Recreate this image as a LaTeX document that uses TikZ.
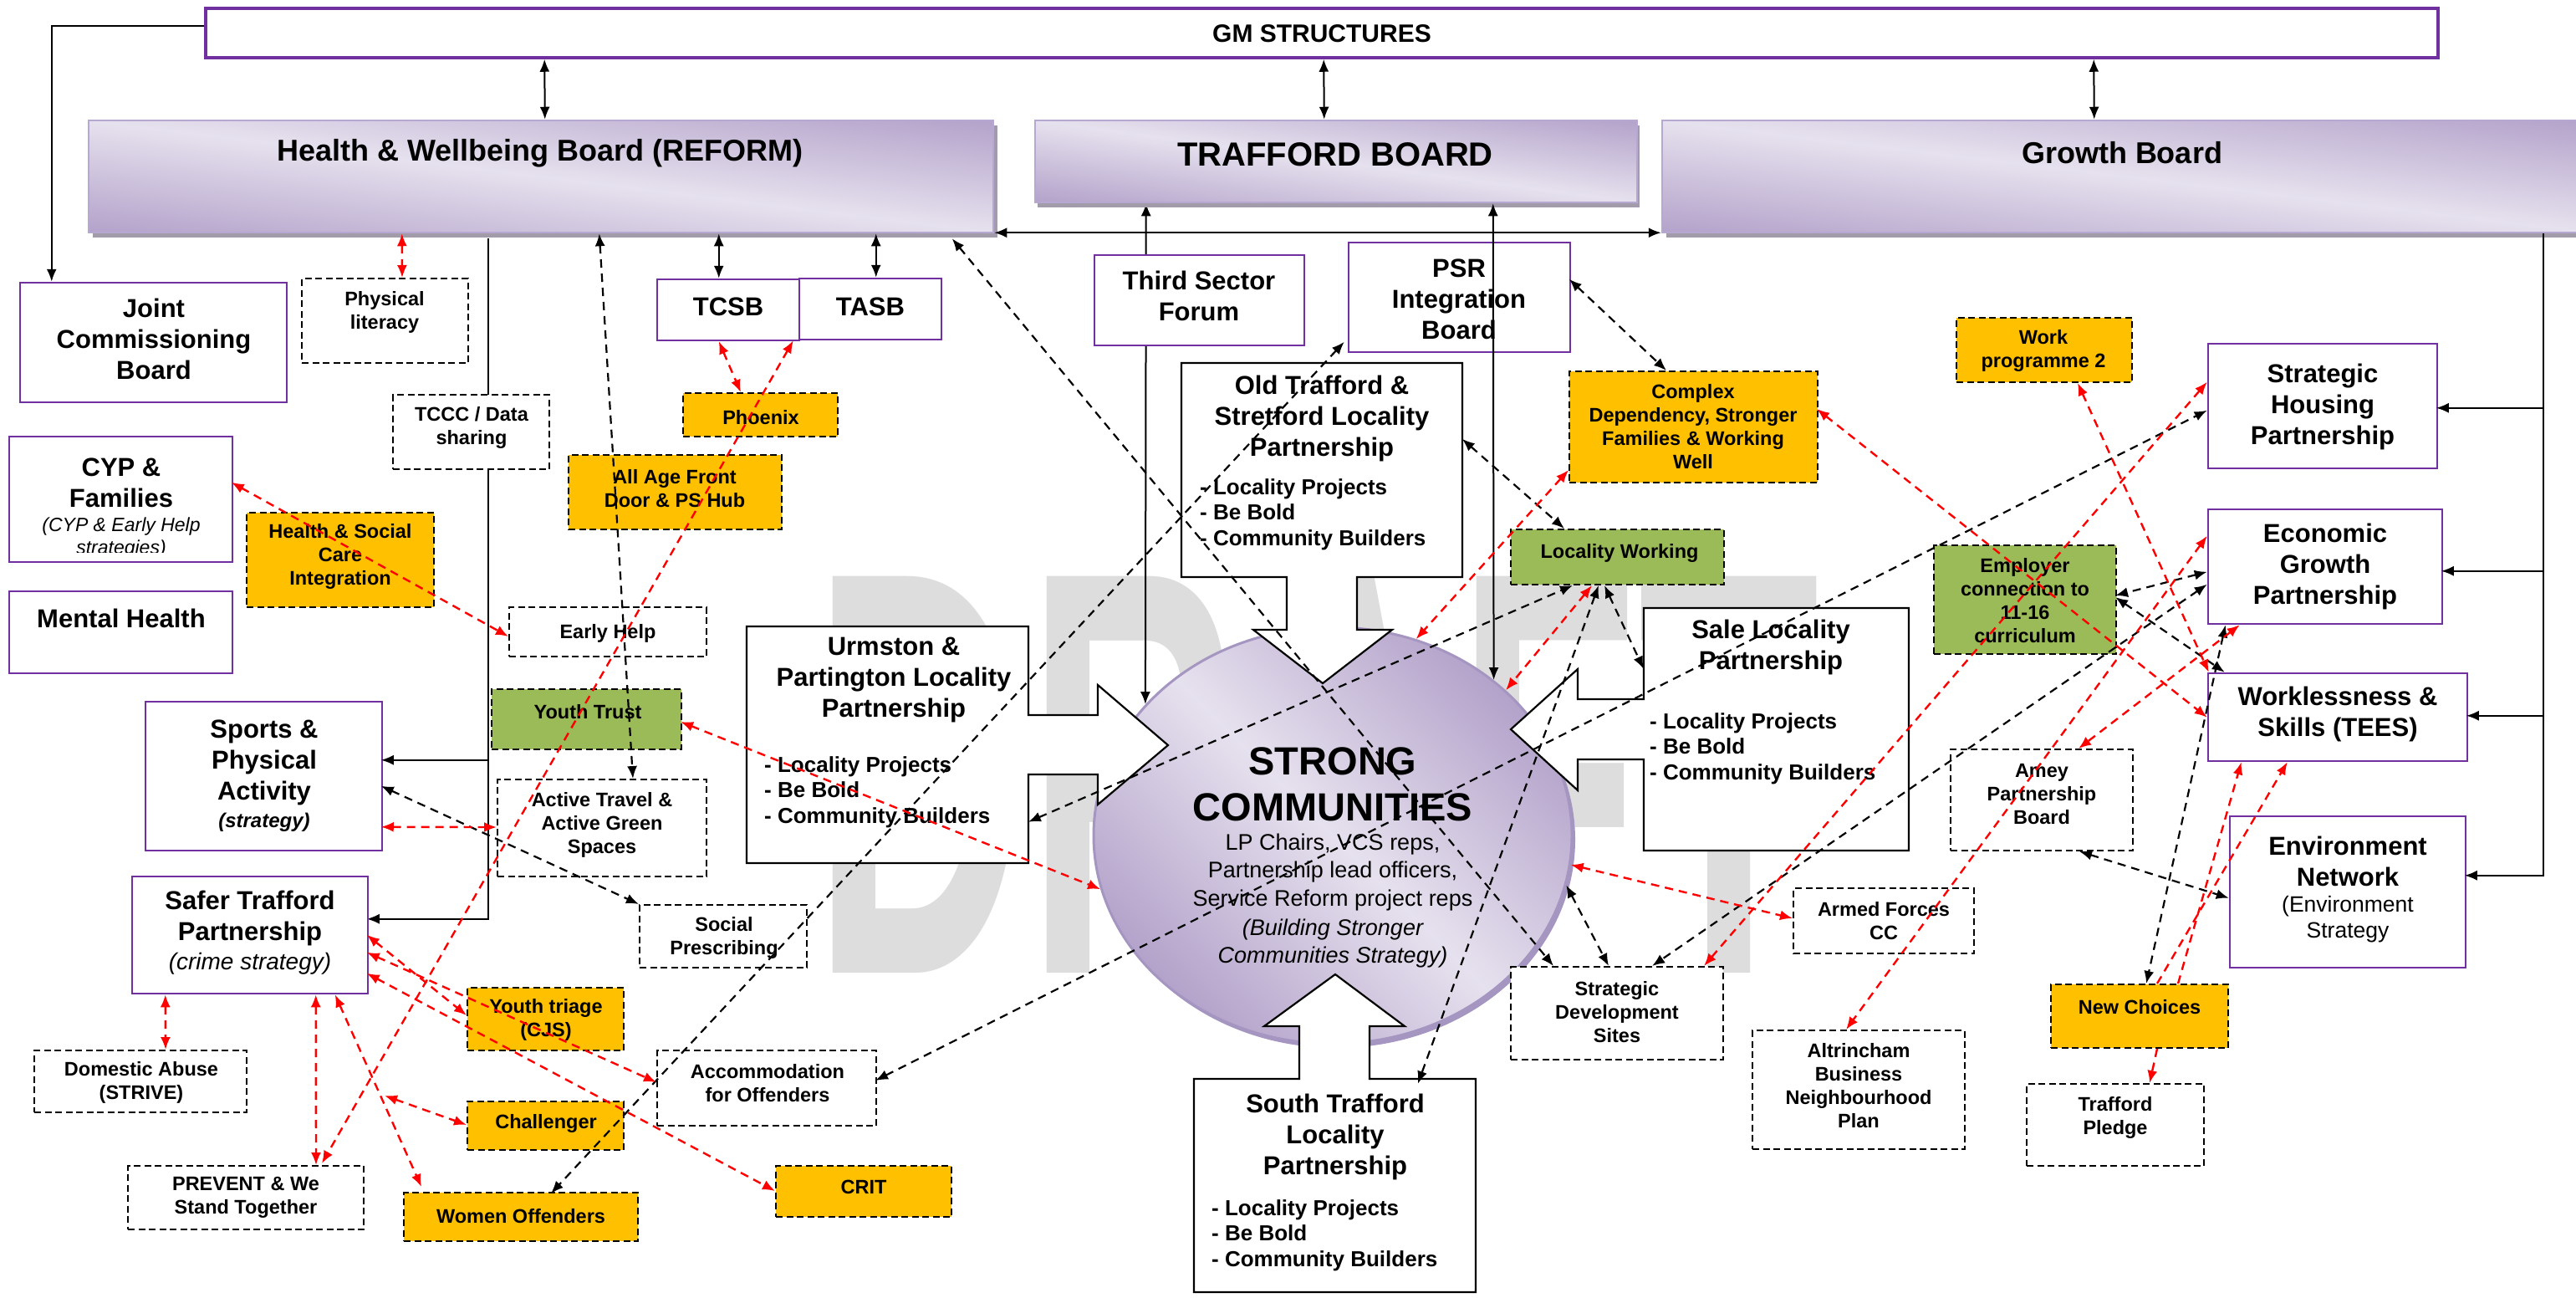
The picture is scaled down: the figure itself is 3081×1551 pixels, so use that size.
\documentclass[tikz,border=0pt]{standalone}
\usepackage{fontspec}
\setmainfont{Liberation Sans}
\usepackage{graphicx}
\usetikzlibrary{arrows.meta,shapes.geometric}
\pgfdeclarelayer{wmk}
\pgfdeclarelayer{lines}
\pgfsetlayers{wmk,lines,main}
\definecolor{pur}{HTML}{7030A0}
\definecolor{orng}{HTML}{FFC000}
\definecolor{grn}{HTML}{9BBB59}
\definecolor{bdark}{HTML}{B3A2CA}
\definecolor{blight}{HTML}{E6E1EE}
\definecolor{bedge}{HTML}{B7A8D1}
\definecolor{shad}{HTML}{A19BAA}
\definecolor{wm}{HTML}{DDDDDD}
\definecolor{rim}{HTML}{A595C1}
\newcommand\mybox[6]{\node[#2, minimum width={#5-#3}, minimum height={#6-#4}] (#1) at ({(#3+#5)/2},{(#4+#6)/2}) {};}
\newcommand\mytext[5]{\node[#2] (#1) at (#3,#4) {#5};}
\newcommand\boardshade[4]{%
 \pgfmathsetmacro\bs{(#4-#2)/(#3-#1)}%
 \pgfmathsetmacro\bya{#2-\bs*#3}%
 \pgfmathsetmacro\byb{#4-\bs*#1}%
 \begin{scope}
 \clip (#1,#2) rectangle (#3,#4);
 \begin{scope}[transform canvas={yslant=-\bs}]
 \shade[top color=bdark, bottom color=bdark, middle color=blight] (#1,\bya) rectangle (#3,\byb);
 \end{scope}
 \end{scope}}
\begin{document}
\begin{tikzpicture}[x=1pt,y=-1pt,>={Latex[length=15pt,width=12pt]},
  pbox/.style={draw=pur, line width=2.5pt, fill=white, inner sep=0pt},
  gmbox/.style={draw=pur, line width=3.5pt, fill=white, inner sep=0pt},
  dbox/.style={draw=black, line width=2pt, dash pattern=on 8pt off 4.5pt, fill=white, inner sep=0pt},
  obox/.style={dbox, fill=orng},
  gbox/.style={dbox, fill=grn},
  ghost/.style={inner sep=0pt},
  boardline/.style={draw=bedge, line width=2.5pt, inner sep=0pt},
  loc/.style={fill=white, draw=black, line width=2.2pt, line join=miter},
  big/.style={font=\fontsize{31}{37}\selectfont\bfseries, align=center, inner sep=0pt},
  sml/.style={font=\fontsize{23.5}{28}\selectfont\bfseries, align=center, inner sep=0pt},
  loct/.style={font=\fontsize{31}{37}\selectfont\bfseries, align=center, inner sep=0pt},
  locb/.style={font=\fontsize{26}{30.5}\selectfont\bfseries, align=left, inner sep=0pt, anchor=west},
  sl/.style={draw=black, line width=2pt},
  bd/.style={draw=black, line width=2.2pt, dash pattern=on 10pt off 7pt},
  rd/.style={draw=red, line width=2.4pt, dash pattern=on 10pt off 7pt}]
\useasboundingbox (0,0) rectangle (3081,1551);
\clip (0,0) rectangle (3081,1551);

\begin{pgfonlayer}{wmk}
\fill[white] (0,0) rectangle (3081,1551);
\node[anchor=north west,inner sep=0pt,text=wm] (draft) at (972,689) {\resizebox{1204pt}{474pt}{\bfseries DRAFT}};
\end{pgfonlayer}

% boards
\fill[shad] (111,150) rectangle (1193,284);
\boardshade{106}{144}{1188}{278}
\mybox{hwb}{boardline}{106}{144}{1188}{278}
\fill[shad] (1241,150) rectangle (1961,248);
\boardshade{1238}{144}{1958}{242}
\mybox{tb}{boardline}{1238}{144}{1958}{242}
\fill[shad] (1993,150) rectangle (3100,284);
\boardshade{1988}{144}{3100}{278}
\mybox{gb}{boardline}{1988}{144}{3100}{278}
\mybox{gm}{gmbox}{246}{10}{2916}{69}
\mytext{gmt}{font=\fontsize{30}{36}\selectfont\bfseries}{1581}{40}{GM STRUCTURES}
\mytext{hwbt}{font=\fontsize{36}{40}\selectfont\bfseries}{646}{183}{Health \& Wellbeing Board (REFORM)}
\mytext{tbt}{font=\fontsize{40}{44}\selectfont\bfseries}{1597}{185}{TRAFFORD BOARD}
\mytext{gbt}{font=\fontsize{36}{40}\selectfont\bfseries}{2538}{183}{Growth Board}

% ellipse
\fill[rim] (1598,1004) ellipse [x radius=286, y radius=249];
\node[ellipse, top color=bdark, bottom color=bdark, middle color=blight, shading angle=-45, draw=rim, line width=3pt, minimum width=572, minimum height=498, inner sep=0pt] (sc) at (1594,999) {};

% locality shapes
\filldraw[loc] (1413,434) -- (1749,434) -- (1749,690) -- (1623,690) -- (1623,753) -- (1665,753) -- (1582,817) -- (1499,753) -- (1539,753) -- (1539,690) -- (1413,690) -- cycle;
\filldraw[loc] (893,749) -- (1230,749) -- (1230,855) -- (1313,855) -- (1313,819) -- (1397,891) -- (1313,962) -- (1313,926) -- (1230,926) -- (1230,1032) -- (893,1032) -- cycle;
\filldraw[loc] (1966,727) -- (2283,727) -- (2283,1017) -- (1966,1017) -- (1966,908) -- (1887,908) -- (1887,945) -- (1807,872) -- (1887,800) -- (1887,836) -- (1966,836) -- cycle;
\filldraw[loc] (1428,1290) -- (1554,1290) -- (1554,1227) -- (1512,1227) -- (1597,1165) -- (1680,1227) -- (1638,1227) -- (1638,1290) -- (1765,1290) -- (1765,1545) -- (1428,1545) -- cycle;
\mybox{ots}{ghost}{1413}{434}{1749}{690}
\mybox{urm}{ghost}{893}{749}{1230}{1032}
\mybox{sale}{ghost}{1966}{727}{2283}{1017}
\mybox{st}{ghost}{1428}{1290}{1765}{1545}
\mytext{otst}{loct}{1581}{500}{Old Trafford \&\\Stretford Locality\\Partnership}
\mytext{otsb}{locb}{1435}{615}{- Locality Projects\\- Be Bold\\- Community Builders}
\mytext{urmt}{loct}{1069}{813}{Urmston \&\\Partington Locality\\Partnership}
\mytext{urmb}{locb}{914}{947}{- Locality Projects\\- Be Bold\\- Community Builders}
\mytext{salet}{loct}{2118}{774}{Sale Locality\\Partnership}
\mytext{saleb}{locb}{1973}{895}{- Locality Projects\\- Be Bold\\- Community Builders}
\mytext{stt}{loct}{1597}{1359}{South Trafford\\Locality\\Partnership}
\mytext{stb}{locb}{1449}{1477}{- Locality Projects\\- Be Bold\\- Community Builders}

% ellipse text
\mytext{sct1}{font=\fontsize{47}{55}\selectfont\bfseries,align=center,inner sep=0pt}{1594}{938}{STRONG\\COMMUNITIES}
\mytext{sct2}{font=\fontsize{27}{33.5}\selectfont,align=center,inner sep=0pt}{1594}{1043}{LP Chairs, VCS reps,\\Partnership lead officers,\\Service Reform project reps}
\mytext{sct3}{font=\fontsize{27}{33.5}\selectfont\itshape,align=center,inner sep=0pt}{1594}{1128}{(Building Stronger\\Communities Strategy)}

% boxes
\mybox{jcb}{pbox}{24}{338}{343}{481}
\mybox{phys}{dbox}{361}{333}{560}{434}
\mybox{tcsb}{pbox}{786}{334}{956}{407}
\mybox{tasb}{pbox}{956}{333}{1126}{406}
\mybox{tsf}{pbox}{1309}{305}{1560}{413}
\mybox{psr}{pbox}{1613}{290}{1878}{421}
\mybox{tccc}{dbox}{470}{472}{657}{561}
\mybox{cyp}{pbox}{11}{522}{278}{672}
\mybox{mh}{pbox}{11}{707}{278}{805}
\mybox{hsci}{obox}{295}{613}{519}{726}
\mybox{phoenix}{obox}{817}{470}{1002}{522}
\mybox{aafd}{obox}{680}{544}{935}{633}
\mybox{eh}{dbox}{609}{726}{845}{785}
\mybox{yt}{gbox}{588}{824}{815}{896}
\mybox{spa}{pbox}{174}{839}{457}{1017}
\mybox{atgs}{dbox}{595}{932}{845}{1048}
\mybox{sp}{dbox}{765}{1082}{965}{1157}
\mybox{stp}{pbox}{158}{1048}{440}{1188}
\mybox{da}{dbox}{41}{1256}{295}{1330}
\mybox{prevent}{dbox}{153}{1394}{435}{1470}
\mybox{yti}{obox}{559}{1181}{746}{1256}
\mybox{chall}{obox}{559}{1317}{746}{1375}
\mybox{wo}{obox}{483}{1426}{763}{1484}
\mybox{aoff}{dbox}{786}{1256}{1048}{1346}
\mybox{crit}{obox}{928}{1394}{1138}{1455}
\mybox{cd}{obox}{1877}{444}{2174}{577}
\mybox{lw}{gbox}{1807}{633}{2062}{699}
\mybox{wp2}{obox}{2340}{380}{2550}{457}
\mybox{shp}{pbox}{2641}{411}{2915}{560}
\mybox{egp}{pbox}{2641}{609}{2921}{746}
\mybox{emp}{gbox}{2313}{652}{2531}{782}
\mybox{ws}{pbox}{2641}{805}{2951}{910}
\mybox{amey}{dbox}{2333}{896}{2551}{1017}
\mybox{en}{pbox}{2667}{976}{2949}{1157}
\mybox{af}{dbox}{2145}{1062}{2361}{1140}
\mybox{alt}{dbox}{2096}{1232}{2350}{1374}
\mybox{nc}{obox}{2453}{1177}{2665}{1253}
\mybox{tp}{dbox}{2424}{1296}{2636}{1394}
\mybox{sds}{dbox}{1807}{1156}{2061}{1267}

% box texts
\mytext{jcbt}{big}{184}{405}{Joint\\Commissioning\\Board}
\mytext{physt}{sml}{460}{373}{Physical\\literacy}
\mytext{tcsbt}{big}{871}{367}{TCSB}
\mytext{tasbt}{big}{1041}{367}{TASB}
\mytext{tsft}{big}{1434}{354}{Third Sector\\Forum}
\mytext{psrt}{big}{1745}{358}{PSR\\Integration\\Board}
\mytext{tccct}{sml}{564}{511}{TCCC / Data\\sharing}
\mytext{cypt}{big}{145}{577}{CYP \&\\Families}
\begin{scope}
\clip (12,523) rectangle (277,660);
\mytext{cypt2}{font=\fontsize{23}{27}\selectfont\itshape,align=center,inner sep=0pt}{145}{643}{(CYP \& Early Help\\strategies)}
\end{scope}
\mytext{mht}{big}{145}{739}{Mental Health}
\mytext{hscit}{sml}{407}{665}{Health \& Social\\Care\\Integration}
\mytext{phoenixt}{sml}{910}{499}{Phoenix}
\mytext{aafdt}{sml}{807}{584}{All Age Front\\Door \& PS Hub}
\mytext{eht}{sml}{727}{757}{Early Help}
\mytext{ytt}{sml}{703}{851}{Youth Trust}
\mytext{spat}{big}{316}{912}{Sports \&\\Physical\\Activity}
\mytext{spat2}{font=\fontsize{24}{28}\selectfont\bfseries\itshape,inner sep=0pt}{316}{983}{(strategy)}
\mytext{atgst}{sml}{720}{986}{Active Travel \&\\Active Green\\Spaces}
\mytext{spt}{sml}{866}{1121}{Social\\Prescribing}
\mytext{stpt}{big}{299}{1098}{Safer Trafford\\Partnership}
\mytext{stpt2}{font=\fontsize{28}{32}\selectfont\itshape,inner sep=0pt}{299}{1152}{(crime strategy)}
\mytext{dat}{sml}{169}{1294}{Domestic Abuse\\(STRIVE)}
\mytext{preventt}{sml}{294}{1432}{PREVENT \& We\\Stand Together}
\mytext{ytit}{sml}{653}{1219}{Youth triage\\(CJS)}
\mytext{challt}{sml}{653}{1343}{Challenger}
\mytext{wot}{sml}{623}{1454}{Women Offenders}
\mytext{aofft}{sml}{918}{1295}{Accommodation\\for Offenders}
\mytext{critt}{sml}{1033}{1419}{CRIT}
\mytext{cdt}{sml}{2025}{510}{Complex\\Dependency, Stronger\\Families \& Working\\Well}
\mytext{lwt}{sml}{1937}{661}{Locality Working}
\mytext{wp2t}{sml}{2444}{419}{Work\\programme 2}
\mytext{shpt}{big}{2778}{486}{Strategic\\Housing\\Partnership}
\mytext{egpt}{big}{2781}{677}{Economic\\Growth\\Partnership}
\mytext{empt}{sml}{2422}{718}{Employer\\connection to\\11-16\\curriculum}
\mytext{wst}{big}{2796}{854}{Worklessness \&\\Skills (TEES)}
\mytext{ameyt}{sml}{2442}{950}{Amey\\Partnership\\Board}
\mytext{ent}{big}{2808}{1030}{Environment\\Network}
\mytext{ent2}{font=\fontsize{26.5}{31}\selectfont,align=center,inner sep=0pt}{2808}{1099}{(Environment\\Strategy}
\mytext{aft}{sml}{2253}{1101}{Armed Forces\\CC}
\mytext{altt}{sml}{2223}{1298}{Altrincham\\Business\\Neighbourhood\\Plan}
\mytext{nct}{sml}{2559}{1204}{New Choices}
\mytext{tpt}{sml}{2530}{1336}{Trafford\\Pledge}
\mytext{sdst}{sml}{1934}{1210}{Strategic\\Development\\Sites}

% solid connectors under boxes
\begin{pgfonlayer}{lines}
\draw[sl,->] ([shift={(479,6)}]hwb.south west) |- ([shift={(282,52)}]stp.north west);
\draw[sl,<->] ([shift={(134,0)}]tb.south west) -- (sc.145);
\end{pgfonlayer}

% solid connectors
\draw[sl,<->] ([shift={(407,0)}]gm.south west) -- ([shift={(547,0)}]hwb.north west);
\draw[sl,<->] ([shift={(1339,0)}]gm.south west) -- ([shift={(347,0)}]tb.north west);
\draw[sl,<->] ([shift={(2260,0)}]gm.south west) -- ([shift={(518,0)}]gb.north west);
\draw[sl,->] ([shift={(0,23)}]gm.north west) -| ([shift={(39,0)}]jcb.north west);
\draw[sl,<->] ([shift={(0,-1)}]hwb.south east) -- ([shift={(0,-1)}]gb.south west);
\draw[sl,<->] ([shift={(755,0)}]hwb.south west) -- ([shift={(75,0)}]tcsb.north west);
\draw[sl,<->] ([shift={(943,0)}]hwb.south west) -- ([shift={(93,0)}]tasb.north west);
\draw[sl,->] ([shift={(411,71)}]spa.north west) -- ([shift={(283,71)}]spa.north west);
\draw[sl,->] ([shift={(1055,0)}]gb.south west) |- ([shift={(282,72)}]en.north west);
\draw[sl,->] ([shift={(402,78)}]shp.north west) -- ([shift={(274,78)}]shp.north west);
\draw[sl,->] ([shift={(402,75)}]egp.north west) -- ([shift={(280,75)}]egp.north west);
\draw[sl,->] ([shift={(402,52)}]ws.north west) -- ([shift={(310,52)}]ws.north west);
\draw[sl,<->] ([shift={(549,0)}]tb.south west) -- (sc.44);

% black dashed connectors
\draw[bd,<->] ([shift={(612,0)}]hwb.south west) -- ([shift={(163,0)}]atgs.north west);
\draw[bd,<->] ([shift={(1034,6)}]hwb.south west) -- ([shift={(52,0)}]sds.north west);
\draw[bd,<->] ([shift={(283,102)}]spa.north west) -- (sp.north west);
\draw[bd,<->] ([shift={(-4,120)}]psr.north west) -- ([shift={(177,2)}]wo.north west);
\draw[bd,<->] ([shift={(262,37)}]aoff.north west) -- ([shift={(0,81)}]shp.north west);
\draw[bd,<->] ([shift={(337,234)}]urm.north west) -- ([shift={(75,0)}]lw.south west);
\draw[bd,<->] ([shift={(106,0)}]lw.south west) -- ([shift={(268,6)}]st.north west);
\draw[bd,<->] ([shift={(113,0)}]lw.south west) -- ([shift={(0,73)}]sale.north west);
\draw[bd,<->] ([shift={(336,91)}]ots.north west) -- ([shift={(65,0)}]lw.north west);
\draw[bd,<->] ([shift={(265,45)}]psr.north west) -- ([shift={(117,0)}]cd.north west);
\draw[bd,<->] (sc.-12) -- ([shift={(118,0)}]sds.north west);
\draw[bd,<->] ([shift={(0,91)}]egp.north west) -- ([shift={(170,0)}]sds.north west);
\draw[bd,<->] ([shift={(0,76)}]egp.north west) -- ([shift={(218,61)}]emp.north west);
\draw[bd,<->] ([shift={(218,63)}]emp.north west) -- ([shift={(21,0)}]ws.north west);
\draw[bd,<->] ([shift={(22,0)}]egp.south west) -- ([shift={(115,0)}]nc.north west);
\draw[bd,<->] ([shift={(155,0)}]amey.south west) -- ([shift={(0,99)}]en.north west);

% red dashed connectors
\draw[rd,<->] ([shift={(376,0)}]hwb.south west) -- ([shift={(121,0)}]phys.north west);
\draw[rd,<->] ([shift={(75,0)}]tcsb.south west) -- ([shift={(70,0)}]phoenix.north west);
\draw[rd,<->] ([shift={(-6,0)}]tasb.south west) -- ([shift={(233,-2)}]prevent.north west);
\draw[rd,<->] ([shift={(267,56)}]cyp.north west) -- ([shift={(0,36)}]eh.north west);
\draw[rd,<->] ([shift={(283,151)}]spa.north west) -- ([shift={(0,58)}]atgs.north west);
\draw[rd,<->] ([shift={(227,40)}]yt.north west) -- (sc.193);
\draw[rd,<->] ([shift={(282,71)}]stp.north west) -- ([shift={(0,34)}]yti.north west);
\draw[rd,<->] ([shift={(282,92)}]stp.north west) -- ([shift={(0,39)}]aoff.north west);
\draw[rd,<->] ([shift={(282,117)}]stp.north west) -- ([shift={(0,31)}]crit.north west);
\draw[rd,<->] ([shift={(41,0)}]stp.south west) -- ([shift={(158,0)}]da.north west);
\draw[rd,<->] ([shift={(221,0)}]stp.south west) -- ([shift={(226,0)}]prevent.north west);
\draw[rd,<->] ([shift={(244,0)}]stp.south west) -- ([shift={(22,-6)}]wo.north west);
\coordinate (r13) at (460,1310);
\draw[rd,<->] (r13) -- ([shift={(0,29)}]chall.north west);
\draw[rd,<->] ([shift={(0,119)}]cd.north west) -- (sc.67);
\draw[rd,<->] ([shift={(98,0)}]lw.south west) -- (sc.40);
\draw[rd,<->] ([shift={(146,0)}]wp2.south west) -- ([shift={(2,0)}]ws.north west);
\draw[rd,<->] ([shift={(297,46)}]cd.north west) -- ([shift={(0,54)}]ws.north west);
\draw[rd,<->] ([shift={(0,47)}]shp.north west) -- ([shift={(232,0)}]sds.north west);
\draw[rd,<->] ([shift={(0,33)}]egp.north west) -- ([shift={(113,0)}]alt.north west);
\draw[rd,<->] ([shift={(39,0)}]egp.south west) -- ([shift={(154,0)}]amey.north west);
\draw[rd,->] ([shift={(153,0)}]nc.north west) -- ([shift={(41,0)}]ws.south west);
\draw[rd,->] ([shift={(128,0)}]nc.north west) -- ([shift={(96,0)}]ws.south west);
\draw[rd,->] ([shift={(128,0)}]nc.south west) -- ([shift={(148,0)}]tp.north west);
\draw[rd,<->] (sc.-7) -- ([shift={(0,37)}]af.north west);
\end{tikzpicture}
\end{document}
